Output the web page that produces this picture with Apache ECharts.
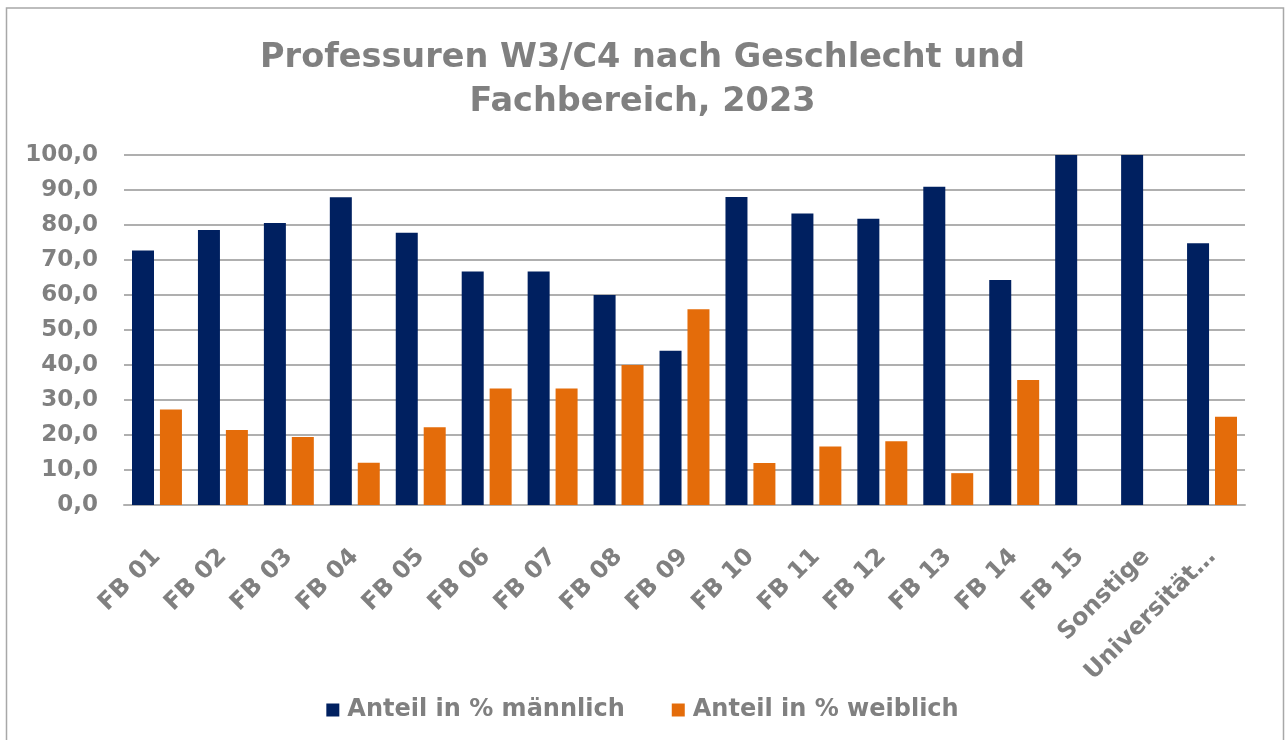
<!DOCTYPE html>
<html>
<head>
<meta charset="utf-8">
<script src="https://cdn.jsdelivr.net/npm/echarts@6/dist/echarts.min.js"></script>
<style>
	html, body { margin: 0; padding: 0; background: #fff; }
	#main { width: 1285px; height: 740px; }
</style>
</head>
<body>
<div id="main"></div>
<script>
// Kategorien (Fachbereiche)
var categories = ['FB 01', 'FB 02', 'FB 03', 'FB 04', 'FB 05', 'FB 06', 'FB 07', 'FB 08', 'FB 09',
	'FB 10', 'FB 11', 'FB 12', 'FB 13', 'FB 14', 'FB 15', 'Sonstige', 'Universität…'];
// Anteil in % männlich
var maennlich = [72.7, 78.6, 80.6, 87.9, 77.8, 66.7, 66.7, 60.0, 44.1, 88.0, 83.3, 81.8, 90.9, 64.3, 100.0, 100.0, 74.8];
// Anteil in % weiblich
var weiblich = [27.3, 21.4, 19.4, 12.1, 22.2, 33.3, 33.3, 40.0, 55.9, 12.0, 16.7, 18.2, 9.1, 35.7, 0, 0, 25.2];

var font = '"DejaVu Sans", Verdana, sans-serif';
var grey = '#808080';

var myChart = echarts.init(document.getElementById('main'));
var option = {
	animation: false,
	textStyle: { fontFamily: font },
	graphic: [{
		type: 'rect',
		shape: { x: 6.5, y: 8, width: 1277, height: 760 },
		style: { fill: 'none', stroke: '#a8a8a8', lineWidth: 1.5 },
		silent: true
	}],
	title: {
		text: 'Professuren W3/C4 nach Geschlecht und\nFachbereich, 2023',
		left: 'center',
		top: 31,
		textStyle: {
			color: grey,
			fontFamily: font,
			fontWeight: 'bold',
			fontSize: 33.5,
			lineHeight: 44
		}
	},
	legend: {
		bottom: 13,
		left: 'center',
		icon: 'rect',
		itemWidth: 13,
		itemHeight: 13,
		itemGap: 47,
		textStyle: { color: grey, fontFamily: font, fontWeight: 'bold', fontSize: 24, padding: [0, 0, 0, 3] }
	},
	grid: {
		left: 124,
		right: 40,
		top: 155,
		bottom: 235
	},
	xAxis: {
		type: 'category',
		data: categories,
		axisTick: { show: false },
		axisLine: { lineStyle: { color: '#b0b0b0', width: 2 } },
		axisLabel: {
			interval: 0,
			rotate: 45,
			margin: 48,
			color: grey,
			fontFamily: font,
			fontWeight: 'bold',
			fontSize: 24
		}
	},
	yAxis: {
		type: 'value',
		min: 0,
		max: 100,
		interval: 10,
		axisLine: { show: false },
		axisTick: { show: false },
		splitLine: { lineStyle: { color: '#959595', width: 1.5 } },
		axisLabel: {
			margin: 26,
			color: grey,
			fontFamily: font,
			fontWeight: 'bold',
			fontSize: 23,
			formatter: function (v) { return v.toFixed(1).replace('.', ','); }
		}
	},
	series: [
		{
			name: 'Anteil in % männlich',
			type: 'bar',
			data: maennlich,
			barWidth: 22,
			barGap: '27%',
			itemStyle: { color: '#002060' }
		},
		{
			name: 'Anteil in % weiblich',
			type: 'bar',
			data: weiblich,
			barWidth: 22,
			itemStyle: { color: '#E46C0A' }
		}
	]
};
myChart.setOption(option);
</script>
</body>
</html>
